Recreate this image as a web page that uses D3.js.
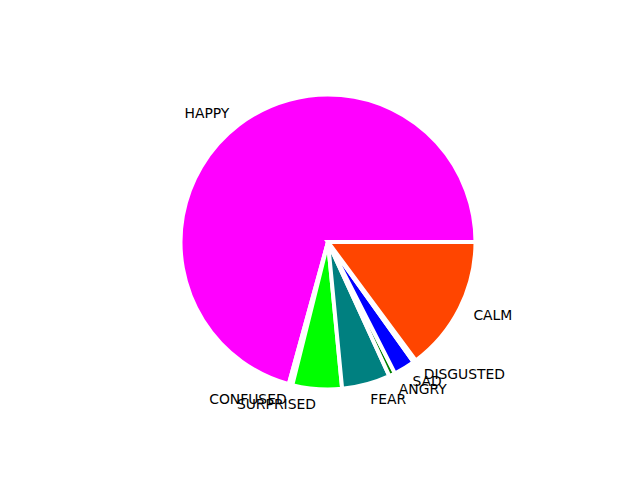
<!DOCTYPE html>
<html>
<head>
<meta charset="utf-8">
<script src="https://cdn.jsdelivr.net/npm/d3@7"></script>
<style>
  html, body { margin: 0; padding: 0; background: #fff; }
  svg { display: block; }
</style>
</head>
<body>
<script>
const categories = ["HAPPY", "CONFUSED", "SURPRISED", "FEAR", "ANGRY", "SAD", "DISGUSTED", "CALM"];
const values = [70.72, 0.39, 5.42, 5.30, 0.67, 2.36, 0.28, 14.86];
const colors = ["#ff00ff", "#ff0000", "#00ff00", "#008080", "#008000", "#0000ff", "#ffff00", "#ff4500"];

const W = 640, H = 480;
const cx = 328, cy = 242, R = 147.5;

const svg = d3.select("body").append("svg").attr("width", W).attr("height", H);

const data = categories.map((c, i) => ({ cat: c, value: values[i], color: colors[i] }));

// matplotlib-style: start at 3 o'clock, counterclockwise
const pie = d3.pie().value(d => d.value).sort(null)
  .startAngle(Math.PI / 2).endAngle(Math.PI / 2 - 2 * Math.PI);
const arcs = pie(data);
const arc = d3.arc().innerRadius(0).outerRadius(R);

const g = svg.append("g").attr("transform", `translate(${cx},${cy})`);

g.selectAll("path.slice").data(arcs).enter().append("path")
  .attr("class", "slice")
  .attr("d", arc)
  .attr("fill", d => d.data.color)
  .attr("stroke", "#ffffff")
  .attr("stroke-width", 4)
  .attr("stroke-linejoin", "miter");

const labelR = 1.1 * 148;
g.selectAll("text.lbl").data(arcs).enter().append("text")
  .attr("class", "lbl")
  .each(function(d) {
    const mid = (d.startAngle + d.endAngle) / 2;
    const x = labelR * Math.sin(mid);
    const y = -labelR * Math.cos(mid);
    d3.select(this)
      .attr("x", x).attr("y", y)
      .attr("text-anchor", x > 0 ? "start" : "end");
  })
  .attr("dominant-baseline", "central")
  .attr("font-family", "DejaVu Sans, sans-serif")
  .attr("font-size", "13.9px")
  .attr("fill", "#000")
  .text(d => d.data.cat);
</script>
</body>
</html>
